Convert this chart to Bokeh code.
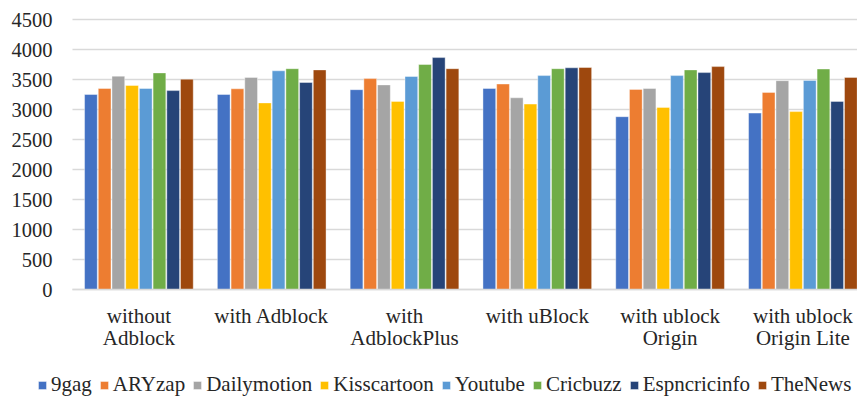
from bokeh.plotting import figure
from bokeh.models import ColumnDataSource, Legend, LegendItem, FixedTicker, Range1d
from bokeh.transform import dodge
from bokeh.embed import file_html
from bokeh.resources import INLINE

# Page load times per site under each blocking setup
categories = ["without\nAdblock", "with Adblock", "with\nAdblockPlus",
              "with uBlock", "with ublock\nOrigin", "with ublock\nOrigin Lite"]

nine_gag = [3250, 3250, 3330, 3350, 2880, 2940]
aryzap = [3350, 3345, 3515, 3425, 3335, 3285]
dailymotion = [3555, 3535, 3410, 3195, 3350, 3480]
kisscartoon = [3400, 3110, 3135, 3090, 3035, 2965]
youtube = [3350, 3645, 3550, 3565, 3565, 3485]
cricbuzz = [3610, 3680, 3750, 3680, 3660, 3675]
espncricinfo = [3315, 3450, 3865, 3695, 3615, 3135]
thenews = [3505, 3660, 3680, 3700, 3715, 3535]

series_names = ["9gag", "ARYzap", "Dailymotion", "Kisscartoon", "Youtube",
                "Cricbuzz", "Espncricinfo", "TheNews"]
series_values = [nine_gag, aryzap, dailymotion, kisscartoon, youtube,
                 cricbuzz, espncricinfo, thenews]
colors = ["#4472C4", "#ED7D31", "#A5A5A5", "#FFC000", "#5B9BD5",
          "#70AD47", "#264478", "#9E480E"]

y_ticks = [0, 500, 1000, 1500, 2000, 2500, 3000, 3500, 4000, 4500]

FONT = "Liberation Serif"
TEXT = "#262626"
GRID = "#D9D9D9"

W, H = 857, 396
# pixel geometry of the value area inside the canvas
AREA_LEFT, AREA_TOP, AREA_BOTTOM = 72, 19, 289
CAT_PX = 132.8
Y_MAX = y_ticks[-1]
px_per_unit = (AREA_BOTTOM - AREA_TOP) / Y_MAX

x_lo = -0.5
x_start = x_lo - AREA_LEFT / CAT_PX
x_end = x_lo + (W - AREA_LEFT) / CAT_PX
y_start = -(H - AREA_BOTTOM) / px_per_unit
y_end = Y_MAX + AREA_TOP / px_per_unit

data = {"x": list(range(len(categories)))}
for name, vals in zip(series_names, series_values):
    data[name] = vals
source = ColumnDataSource(data)

p = figure(width=W, height=H, output_backend="svg", toolbar_location=None,
           x_range=Range1d(x_start, x_end), y_range=Range1d(y_start, y_end),
           min_border=0)
p.outline_line_color = None
p.background_fill_color = "white"
p.xgrid.visible = False
p.ygrid.visible = False

# horizontal gridlines across the category area
p.segment(x0=x_lo, x1=x_end, y0=y_ticks, y1=y_ticks,
          line_color=GRID, line_width=1.5)

pitch = 0.1032
items = []
for k, (name, color) in enumerate(zip(series_names, colors)):
    r = p.vbar(x=dodge("x", (k - 3.5) * pitch, range=p.x_range), top=name,
               width=pitch * 0.93, bottom=0, source=source,
               fill_color=color, line_color="white", line_alpha=0.5,
               line_width=0.8)
    items.append(LegendItem(label=name, renderers=[r]))

# y axis pinned at the left edge of the category area
p.yaxis.fixed_location = x_lo
p.yaxis.ticker = FixedTicker(ticks=y_ticks)
p.yaxis.axis_line_color = None
p.yaxis.major_tick_line_color = None
p.yaxis.minor_tick_line_color = None
p.yaxis.major_label_standoff = 14
p.yaxis.major_label_text_font = FONT
p.yaxis.major_label_text_font_size = "20.5px"
p.yaxis.major_label_text_color = TEXT

# x axis pinned at zero, category names below it
p.xaxis.fixed_location = 0
p.xaxis.bounds = (x_lo, x_end)
p.xaxis.ticker = FixedTicker(ticks=list(range(len(categories))))
p.xaxis.major_label_overrides = {i: c for i, c in enumerate(categories)}
p.xaxis.axis_line_color = GRID
p.xaxis.axis_line_width = 1.5
p.xaxis.major_tick_line_color = None
p.xaxis.minor_tick_line_color = None
p.xaxis.major_label_standoff = 8
p.xaxis.major_label_text_font = FONT
p.xaxis.major_label_text_font_size = "21px"
p.xaxis.major_label_text_color = TEXT
p.xaxis.major_label_text_line_height = 0.95

legend = Legend(items=items, orientation="horizontal", location=(37, -1),
                glyph_width=10, glyph_height=10, label_standoff=4, spacing=7,
                padding=0, margin=0, border_line_color=None,
                background_fill_alpha=0,
                label_text_font=FONT, label_text_font_size="21px",
                label_text_font_style="normal",
                label_text_color=TEXT, label_height=20)
p.add_layout(legend, "center")

open("out.html", "w").write(file_html(p, INLINE))
